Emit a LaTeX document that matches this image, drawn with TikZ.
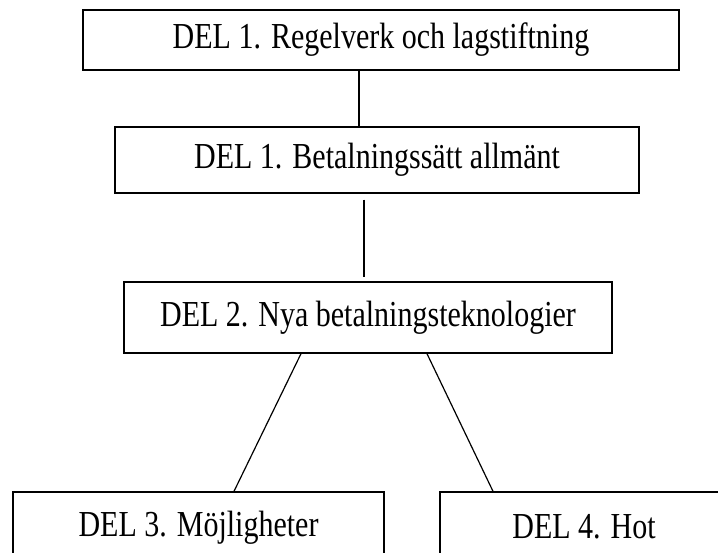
\documentclass[tikz,border=0pt]{standalone}
\usepackage{fontspec}
\setmainfont{Liberation Serif}
\newcommand{\tallt}[1]{\scalebox{1.0}[1.22]{#1}}
\begin{document}
\begin{tikzpicture}[x=1pt,y=-1pt,
  box/.style={draw,line width=1.4pt,inner sep=0pt,font=\fontsize{30}{36}\selectfont},
  conn/.style={line width=1.2pt}]
\useasboundingbox (0,0) rectangle (718,552);
\clip (0,0) rectangle (718,552);
\node[box,minimum width=596pt,minimum height=60pt] (b1) at (381,40) {\tallt{DEL 1. Regelverk och lagstiftning}\hspace{19pt}};
\node[box,minimum width=524pt,minimum height=66pt] (b2) at (377,160) {\tallt{DEL 1. Betalningssätt allmänt}};
\node[box,minimum width=488pt,minimum height=71pt] (b3) at (368,317.5) {\raisebox{3pt}{\tallt{DEL 2. Nya betalningsteknologier}}\hspace{5pt}};
\node[box,minimum width=371pt,minimum height=72pt] (b4) at (198.5,528) {\raisebox{3pt}{\tallt{DEL 3. Möjligheter}}};
\node[box,minimum width=288pt,minimum height=72pt] (b5) at (584,528) {\raisebox{3pt}{\tallt{DEL 4. Hot}}};
\draw[conn] (359,0 |- b1.south) -- (359,0 |- b2.north);
\draw[conn] ([yshift=-6pt]364,0 |- b2.south) -- ([yshift=4pt]364,0 |- b3.north);
\draw[conn] (301,0 |- b3.south) -- (234,0 |- b4.north);
\draw[conn] (427,0 |- b3.south) -- (493,0 |- b5.north);
\end{tikzpicture}
\end{document}
